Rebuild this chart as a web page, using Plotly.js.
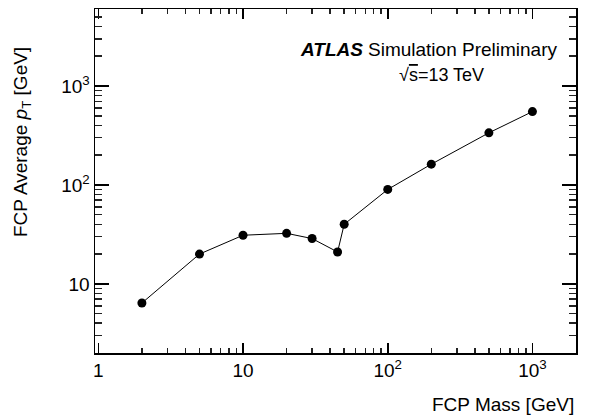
<!DOCTYPE html>
<html>
<head>
<meta charset="utf-8">
<script src="https://cdn.plot.ly/plotly-3.0.1.min.js"></script>
<style>html,body{margin:0;padding:0;background:#fff;}#chart{width:589px;height:420px;}</style>
</head>
<body>
<div id="chart"></div>
<script>
// FCP mass [GeV]
var fcpMass = [2, 5, 10, 20, 30, 45, 50, 100, 200, 500, 1000];
// FCP average pT [GeV]
var fcpAvgPt = [6.4, 20, 31, 32.4, 28.7, 21, 40, 90, 162, 336, 551];

var xTickVals = [1, 10, 100, 1000];
var xTickText = ['1', '10', '10<sup>2</sup>', '10<sup>3</sup>'];
var yTickVals = [10, 100, 1000];
var yTickText = ['10', '10<sup>2</sup>', '10<sup>3</sup>'];
var xMinorVals = [2, 3, 4, 5, 6, 7, 8, 9, 20, 30, 40, 50, 60, 70, 80, 90,
                  200, 300, 400, 500, 600, 700, 800, 900, 2000];
var yMinorVals = [2, 3, 4, 5, 6, 7, 8, 9, 20, 30, 40, 50, 60, 70, 80, 90,
                  200, 300, 400, 500, 600, 700, 800, 900, 2000, 3000, 4000, 5000, 6000];

var FONT = 'Liberation Sans, Arial, Helvetica, sans-serif';
var X_RANGE = [Math.log10(0.948), Math.log10(2000)];
var Y_RANGE = [Math.log10(2), Math.log10(6000)];

var trace = {
  x: fcpMass,
  y: fcpAvgPt,
  type: 'scatter',
  mode: 'lines+markers',
  line: {color: '#000', width: 1},
  marker: {color: '#000', size: 9, symbol: 'circle'},
  cliponaxis: false,
  showlegend: false
};
// invisible companion trace so the minor-tick overlay axes get drawn
var minorAxesTrace = {
  x: fcpMass,
  y: fcpAvgPt,
  xaxis: 'x2',
  yaxis: 'y2',
  type: 'scatter',
  mode: 'markers',
  marker: {opacity: 0},
  hoverinfo: 'skip',
  showlegend: false
};

var layout = {
  width: 589,
  height: 420,
  margin: {l: 95, r: 13, t: 9, b: 67},
  paper_bgcolor: '#fff',
  plot_bgcolor: '#fff',
  font: {family: FONT, color: '#000'},
  xaxis: {
    type: 'log', range: X_RANGE, showgrid: false, zeroline: false,
    tickmode: 'array', tickvals: xTickVals, ticktext: xTickText,
    ticks: 'inside', ticklen: 10, tickwidth: 1.5, tickcolor: '#000',
    tickfont: {family: FONT, size: 19, color: '#000'},
    showline: true, linecolor: '#000', linewidth: 1.5, mirror: 'ticks'
  },
  yaxis: {
    type: 'log', range: Y_RANGE, showgrid: false, zeroline: false,
    tickmode: 'array', tickvals: yTickVals, ticktext: yTickText,
    ticks: 'inside', ticklen: 14, tickwidth: 1.5, tickcolor: '#000',
    tickfont: {family: FONT, size: 19, color: '#000'},
    showline: true, linecolor: '#000', linewidth: 1.5, mirror: 'ticks'
  },
  xaxis2: {
    type: 'log', range: X_RANGE, overlaying: 'x', anchor: 'y2', side: 'bottom',
    showgrid: false, zeroline: false,
    tickmode: 'array', tickvals: xMinorVals, showticklabels: false,
    ticks: 'inside', ticklen: 5, tickwidth: 1.5, tickcolor: '#222',
    showline: false, mirror: 'ticks'
  },
  yaxis2: {
    type: 'log', range: Y_RANGE, overlaying: 'y', anchor: 'x2', side: 'left',
    showgrid: false, zeroline: false,
    tickmode: 'array', tickvals: yMinorVals, showticklabels: false,
    ticks: 'inside', ticklen: 7, tickwidth: 1.5, tickcolor: '#222',
    showline: false, mirror: 'ticks'
  },
  annotations: [
    {xref: 'paper', yref: 'paper', x: 0.422, y: 0.881, xanchor: 'left', yanchor: 'middle',
     text: '<b><i>ATLAS</i></b>', showarrow: false, font: {family: FONT, size: 19, color: '#000'}},
    {xref: 'paper', yref: 'paper', x: 0.967, y: 0.881, xanchor: 'right', yanchor: 'middle',
     text: 'Simulation Preliminary', showarrow: false, font: {family: FONT, size: 19, color: '#000'}},
    {xref: 'paper', yref: 'paper', x: 0.7214, y: 0.808, xanchor: 'center', yanchor: 'middle',
     text: '\u221A<span style="text-decoration:overline">s</span>=13 TeV', showarrow: false, font: {family: FONT, size: 18, color: '#000'}},
    {xref: 'paper', yref: 'paper', x: 1.0, y: -0.151, xanchor: 'right', yanchor: 'middle',
     text: 'FCP Mass [GeV]', showarrow: false, font: {family: FONT, size: 19, color: '#000'}},
    {xref: 'paper', yref: 'paper', x: -0.152, y: 0.895, xanchor: 'center', yanchor: 'top', textangle: -90,
     text: 'FCP Average <i>p</i><sub>T</sub> [GeV]', showarrow: false, font: {family: FONT, size: 19, color: '#000'}}
  ]
};

Plotly.newPlot('chart', [minorAxesTrace, trace], layout, {displayModeBar: false, staticPlot: true});
</script>
</body>
</html>
